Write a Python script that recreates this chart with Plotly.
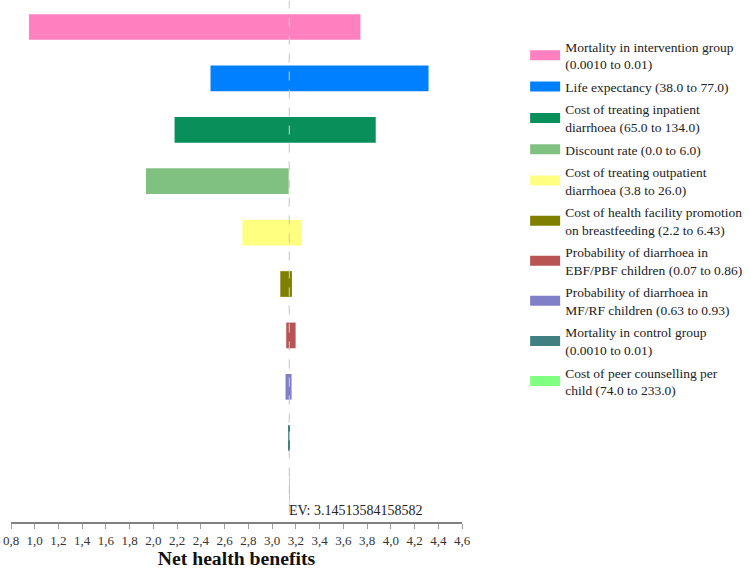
import plotly.graph_objects as go

# tornado diagram: net health benefits, one-way sensitivity
params = [
    "Mortality in intervention group<br>(0.0010 to 0.01)",
    "Life expectancy (38.0 to 77.0)",
    "Cost of treating inpatient<br>diarrhoea (65.0 to 134.0)",
    "Discount rate (0.0 to 6.0)",
    "Cost of treating outpatient<br>diarrhoea (3.8 to 26.0)",
    "Cost of health facility promotion<br>on breastfeeding (2.2 to 6.43)",
    "Probability of diarrhoea in<br>EBF/PBF children (0.07 to 0.86)",
    "Probability of diarrhoea in<br>MF/RF children (0.63 to 0.93)",
    "Mortality in control group<br>(0.0010 to 0.01)",
    "Cost of peer counselling per<br>child (74.0 to 233.0)",
]
low = [0.951, 2.481, 2.178, 1.937, 2.750, 3.069, 3.119, 3.113, 3.141, 3.144]
high = [3.744, 4.318, 3.873, 3.140, 3.251, 3.167, 3.198, 3.164, 3.149, 3.146]
colors = [
    "#FF80BF", "#0080FF", "#088F5A", "#80C080", "#FFFF80",
    "#808000", "#B85454", "#8080C8", "#408080", "#80FF80",
]
ev = 3.14513584158582

ticks = [round(0.8 + 0.2 * i, 1) for i in range(20)]
serif = "Liberation Serif"

fig = go.Figure()
for i, name in enumerate(params):
    fig.add_trace(
        go.Bar(
            y=[i],
            x=[high[i] - low[i]],
            base=[low[i]],
            orientation="h",
            width=0.5,
            marker=dict(color=colors[i], line=dict(width=0)),
            showlegend=False,
            hoverinfo="skip",
        )
    )
# wide legend swatches
for i, name in enumerate(params):
    fig.add_trace(
        go.Scatter(
            x=[None], y=[None], mode="lines",
            line=dict(color=colors[i], width=13),
            name=name, legendgroup=str(i),
        )
    )

fig.add_shape(
    type="line", xref="x", yref="paper",
    x0=ev, x1=ev, y0=0.018, y1=1,
    line=dict(color="rgba(200,200,200,0.9)", width=1.2, dash="dash"),
    layer="above",
)
fig.add_annotation(
    x=ev, y=0.004, xref="x", yref="paper",
    text="EV: " + str(ev), showarrow=False,
    xanchor="left", yanchor="bottom", xshift=-2,
    font=dict(family=serif, size=14, color="#222"),
)

fig.update_layout(
    width=750, height=569,
    margin=dict(l=11, r=288, t=1, b=47),
    plot_bgcolor="white", paper_bgcolor="white",
    separators=", ",
    barmode="overlay",
    font=dict(family=serif, size=13, color="#222"),
    xaxis=dict(
        range=[0.8, 4.6], tickvals=ticks, tickformat=".1f",
        showgrid=False, zeroline=False, automargin=False,
        showline=True, linecolor="#808080", linewidth=2,
        ticks="outside", ticklen=5, tickcolor="#a0a0a0", tickwidth=1,
        ticklabeloverflow="allow",
        tickfont=dict(family=serif, size=13, color="#333"),
        title=dict(text="<b>Net health benefits</b>", standoff=0,
                   font=dict(family=serif, size=19.7, color="#111")),
    ),
    xaxis2=dict(
        range=[0.8, 4.6], tickvals=ticks, overlaying="x", anchor="y",
        side="bottom", showgrid=False, zeroline=False, showline=False,
        ticks="inside", ticklen=5, tickcolor="#a0a0a0", tickwidth=1,
        showticklabels=False, automargin=False,
    ),
    yaxis=dict(
        range=[9.63, -0.506], showgrid=False, zeroline=False, automargin=False,
        showticklabels=False, showline=False, ticks="",
    ),
    legend=dict(
        x=1.140, y=0.942, xanchor="left", yanchor="top",
        traceorder="grouped", tracegroupgap=2,
        font=dict(family=serif, size=13.5, color="#222"),
        bgcolor="rgba(0,0,0,0)",
    ),
)

# drop the browser's default body margin so the figure sits at the window corner
fig.write_html(
    "out.html",
    config={"displayModeBar": False},
    post_script="document.body.style.margin='0';",
)
